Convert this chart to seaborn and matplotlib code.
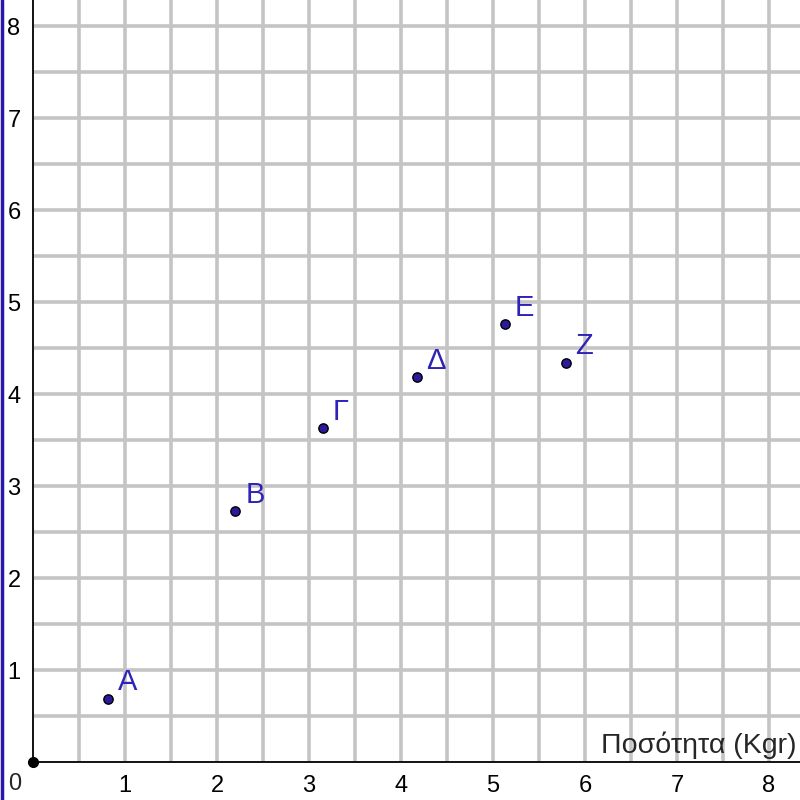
import numpy as np
import pandas as pd
import matplotlib
matplotlib.use("Agg")
import matplotlib.pyplot as plt
from matplotlib.lines import Line2D
import seaborn as sns

# points
labels = ["A", "B", "Γ", "Δ", "E", "Z"]
x_vals = [0.82, 2.20, 3.15, 4.17, 5.13, 5.79]
y_vals = [0.69, 2.73, 3.63, 4.18, 4.76, 4.34]

x_ticks = [1, 2, 3, 4, 5, 6, 7, 8]
y_ticks = [1, 2, 3, 4, 5, 6, 7, 8]
x_title = "Ποσότητα (Kgr)"

df = pd.DataFrame({"x": x_vals, "y": y_vals, "label": labels})

sns.set_style("white")
plt.rcParams["font.family"] = ["Liberation Sans", "DejaVu Sans"]

fig = plt.figure(figsize=(8, 8), dpi=100)
ax = fig.add_axes([0, 0, 1, 1])
ax.set_xlim(-0.359, 8.337)
ax.set_ylim(-0.413, 8.283)

# grid every half unit, only in the first quadrant
grid = np.arange(0.5, 8.51, 0.5)
ax.vlines(grid, 0, 8.4, color="#c4c4c4", lw=2.6, zorder=0)
ax.hlines(grid, 0, 8.4, color="#c4c4c4", lw=2.6, zorder=0)

for side in ["top", "right"]:
    ax.spines[side].set_visible(False)
ax.spines["left"].set_position(("data", 0))
ax.spines["bottom"].set_position(("data", 0))
ax.spines["left"].set_bounds(0, 8.283)
ax.spines["bottom"].set_bounds(0, 8.337)
for side in ["left", "bottom"]:
    ax.spines[side].set_color("black")
    ax.spines[side].set_linewidth(1.3)
    ax.spines[side].set_zorder(2)

ax.set_xticks(x_ticks)
ax.set_yticks(y_ticks)
ax.set_xticks(np.arange(0.5, 8.5, 1), minor=True)
ax.set_yticks(np.arange(0.5, 8.5, 1), minor=True)
ax.tick_params(which="both", direction="out", length=4, width=1.2,
               color="black", labelcolor="black", labelsize=17, pad=5)
ax.text(-0.2, -0.24, "0", fontsize=17, ha="center", va="center")

# origin dot
ax.plot([0], [0], "o", color="black", ms=7, zorder=3, clip_on=False)

sns.scatterplot(data=df, x="x", y="y", ax=ax, s=45, color="#2b1b9c",
                edgecolor="black", linewidth=1.0, zorder=4)
ax.set_xlabel("")
ax.set_ylabel("")
for _, r in df.iterrows():
    ax.annotate(r["label"], (r["x"], r["y"]), xytext=(7, 6),
                textcoords="offset points", fontsize=21, color="#2e22b8")

ax.text(8.3, 0.1, x_title, fontsize=20.5, ha="right", va="baseline")

# blue border line on the left edge
fig.add_artist(Line2D([0.002, 0.002], [0, 1], color="#2a16a8", lw=2.5,
                      transform=fig.transFigure))

fig.savefig("out.png", dpi=100)
